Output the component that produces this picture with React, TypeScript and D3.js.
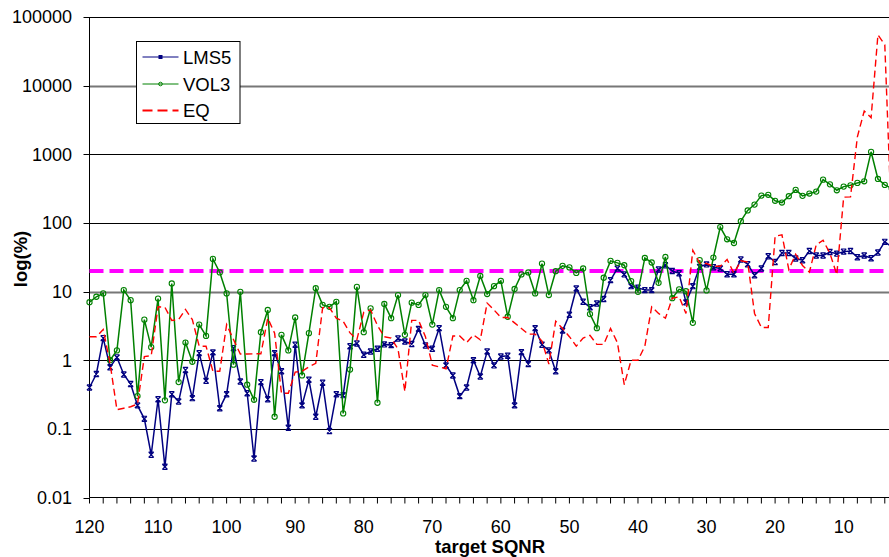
import React from "react";
import * as d3 from "d3";

// target SQNR categories: 120 down to 3
const categories: number[] = d3.range(120, 2, -1);

const lms5: number[] = [
  0.40, 0.63, 2.1, 0.79, 1.1, 0.62, 0.45, 0.22, 0.14, 0.042,
  0.27, 0.028, 0.32, 0.25, 0.72, 0.28, 1.27, 0.50, 1.3, 0.20,
  0.32, 1.5, 0.49, 0.33, 0.037, 0.48, 0.27, 1.27, 0.69, 0.104,
  1.68, 0.22, 0.52, 0.15, 0.47, 0.093, 0.32, 0.31, 1.6, 1.75,
  1.2, 1.34, 1.47, 1.7, 1.66, 2.07, 1.87, 1.72, 2.86, 1.64,
  1.47, 2.93, 0.84, 0.60, 0.30, 0.40, 1.0, 0.58, 1.34, 0.84,
  1.13, 1.16, 0.22, 1.31, 0.88, 2.93, 1.68, 1.39, 0.69, 2.7,
  4.6, 11.1, 7.1, 5.9, 6.7, 7.8, 14.7, 21.7, 17.8, 12.0,
  11.4, 10.5, 10.5, 21, 24.2, 19.9, 18.5, 6.95, 12.0, 22.9,
  24.9, 22.6, 21.7, 17.9, 17.9, 29.3, 25, 17.3, 21.7, 32.7,
  27, 36.5, 36.5, 30.3, 28.6, 39, 33.5, 33.5, 37.7, 35.7,
  38.2, 39, 31.6, 33.5, 30.6, 37, 53, 45,
];

const vol3: number[] = [
  7.0, 8.4, 9.4, 1.0, 1.39, 10.5, 7.5, 0.30, 3.9, 1.55,
  7.9, 0.26, 13.1, 0.48, 1.81, 0.95, 3.3, 2.26, 29.9, 19,
  9.4, 0.86, 9.9, 0.44, 0.265, 2.56, 5.4, 0.15, 2.34, 1.39,
  4.2, 0.6, 2.48, 11.2, 6.4, 6.0, 7.1, 0.168, 0.73, 11.7,
  2.56, 5.7, 0.24, 6.6, 4.1, 8.9, 2.34, 6.9, 6.4, 8.9,
  3.3, 10.5, 6.0, 4.1, 10.5, 14.3, 7.5, 16.9, 9.2, 12,
  14.3, 4.3, 10.9, 17.8, 19, 9.4, 25.6, 8.9, 19.8, 23.7,
  22.5, 18.7, 21.7, 4.7, 2.93, 15.9, 28, 26.2, 24.2, 14.2,
  9.9, 30.9, 26.5, 13.4, 31.9, 8.0, 10.8, 10.1, 3.5, 28.7,
  10.4, 31.3, 87, 57.7, 51, 106, 152, 185, 250, 257,
  210, 198, 245, 303, 248, 268, 286, 427, 365, 299,
  338, 353, 383, 404, 1087, 437, 358, 320,
];

const eq: number[] = [
  2.2, 2.2, 2.8, 0.9, 0.19, 0.20, 0.21, 0.23, 1.13, 1.16,
  6.0, 5.9, 3.8, 3.9, 5.5, 3.9, 1.6, 1.6, 0.69, 0.69,
  3.3, 2.0, 1.23, 1.23, 1.24, 1.24, 4.1, 2.48, 0.33, 0.33,
  0.67, 0.69, 0.8, 0.9, 5.8, 5.8, 4.1, 3.7, 2.5, 2.0,
  5.0, 5.4, 3.2, 2.2, 2.1, 1.45, 0.35, 3.8, 3.8, 2.2,
  0.85, 0.8, 0.75, 2.25, 2.25, 1.8, 2.34, 1.98, 6.8, 5.4,
  4.2, 4.2, 3.5, 2.9, 2.4, 2.4, 1.9, 0.88, 3.7, 2.9,
  2.2, 1.6, 2.1, 2.3, 1.7, 1.7, 2.9, 1.8, 0.44, 1.0,
  1.0, 1.6, 6.0, 4.8, 4.1, 8.0, 8.4, 4.8, 40, 26,
  25.6, 23.4, 23.4, 29.3, 18.4, 28, 27, 4.8, 3.0, 3.0,
  64, 67, 21, 35, 24, 19.2, 48, 56, 36, 17.6,
  237, 240, 1800, 4270, 3410, 55200, 39500, 90,
];

const threshold = 20;
const yTicks: number[] = [0.01, 0.1, 1, 10, 100, 1000, 10000, 100000];
const yTickLabels: string[] = ["0.01", "0.1", "1", "10", "100", "1000", "10000", "100000"];
const xLabelValues: number[] = [120, 110, 100, 90, 80, 70, 60, 50, 40, 30, 20, 10];
const xMinorTicks: number[] = d3.range(120, 3, -2);

const W = 889;
const H = 557;
const FONT = "'Liberation Sans', Arial, Helvetica, sans-serif";

export default function App() {
  const x = d3.scaleLinear().domain([120, 3]).range([89.5, 89.5 + 117 * 6.856]);
  const y = d3.scaleLog().domain([0.01, 100000]).range([497.5, 17]);
  const left = x(120);
  const right = W;
  const bottom = y(0.01);

  const line = d3
    .line<number>()
    .x((_, i) => x(categories[i]))
    .y((d) => y(d));

  const grayLines = new Set([10, 10000]);
  const starPath = "M-2.6,-2.6L2.6,2.6M-2.6,2.6L2.6,-2.6M-2.6,-2.6L2.6,-2.6M-2.6,2.6L2.6,2.6";

  return (
    <div>
      <style>{"body{margin:0;}"}</style>
      <svg width={W} height={H} style={{ display: "block", fontFamily: FONT }}>
        <rect x={0} y={0} width={W} height={H} fill="#fff" />
        {/* gridlines */}
        {yTicks.slice(1).map((t) => (
          <line
            key={"g" + t}
            x1={left}
            x2={right}
            y1={Math.round(y(t)) + 0.5}
            y2={Math.round(y(t)) + 0.5}
            stroke={grayLines.has(t) ? "#777" : "#000"}
            strokeWidth={grayLines.has(t) ? 2 : 1}
          />
        ))}
        {/* axes */}
        <line x1={left} x2={left} y1={y(100000)} y2={bottom} stroke="#000" strokeWidth={1} />
        <line x1={left} x2={right} y1={bottom} y2={bottom} stroke="#000" strokeWidth={1} />
        {yTicks.map((t, i) => (
          <g key={"yt" + t}>
            <line x1={left - 6} x2={left} y1={Math.round(y(t)) + 0.5} y2={Math.round(y(t)) + 0.5} stroke="#000" />
            <text x={72} y={y(t)} dy="0.36em" textAnchor="end" fontSize={18} fill="#000">
              {yTickLabels[i]}
            </text>
          </g>
        ))}
        {xMinorTicks.map((v) => (
          <line key={"xt" + v} x1={x(v)} x2={x(v)} y1={bottom} y2={bottom + 6} stroke="#000" />
        ))}
        {xLabelValues.map((v) => (
          <text key={"xl" + v} x={x(v)} y={533} textAnchor="middle" fontSize={18} fill="#000">
            {v}
          </text>
        ))}
        <text x={490} y={553} textAnchor="middle" fontSize={18.5} fontWeight="bold" fill="#000">
          target SQNR
        </text>
        <text
          transform={`translate(27,259) rotate(-90)`}
          textAnchor="middle"
          fontSize={18.5}
          fontWeight="bold"
          fill="#000"
        >
          log(%)
        </text>

        {/* threshold */}
        <line
          x1={left}
          x2={right}
          y1={y(threshold)}
          y2={y(threshold)}
          stroke="#FF00FF"
          strokeWidth={4}
          strokeDasharray="14,6"
        />

        {/* LMS5 */}
        <path d={line(lms5) || ""} fill="none" stroke="#000080" strokeWidth={1.5} />
        {lms5.map((d, i) => (
          <path
            key={"m" + i}
            d={starPath}
            transform={`translate(${x(categories[i])},${y(d)})`}
            fill="none"
            stroke="#000080"
            strokeWidth={1.2}
          />
        ))}
        {/* VOL3 */}
        <path d={line(vol3) || ""} fill="none" stroke="#008000" strokeWidth={1.5} />
        {vol3.map((d, i) => (
          <circle key={"c" + i} cx={x(categories[i])} cy={y(d)} r={2.6} fill="none" stroke="#008000" strokeWidth={1.1} />
        ))}
        {/* EQ */}
        <path d={line(eq) || ""} fill="none" stroke="#FF0000" strokeWidth={1.4} strokeDasharray="7,4" />

        {/* legend */}
        <rect x={136.5} y={41.5} width={103.5} height={82} fill="#fff" stroke="#000" strokeWidth={1} />
        <line x1={142.5} x2={178.5} y1={57} y2={57} stroke="#000080" strokeWidth={1} />
        <rect x={158.5} y={55} width={4} height={4} fill="#000080" />
        <text x={183} y={57} dy="0.36em" fontSize={18.5} fill="#000">LMS5</text>
        <line x1={142.5} x2={178.5} y1={84} y2={84} stroke="#008000" strokeWidth={1} />
        <circle cx={160.5} cy={84} r={1.8} fill="none" stroke="#008000" strokeWidth={1} />
        <text x={183} y={84} dy="0.36em" fontSize={18.5} fill="#000">VOL3</text>
        <line x1={142.5} x2={178.5} y1={110.5} y2={110.5} stroke="#FF0000" strokeWidth={2} strokeDasharray="10,5" />
        <text x={183} y={110} dy="0.36em" fontSize={18.5} fill="#000">EQ</text>
      </svg>
    </div>
  );
}
